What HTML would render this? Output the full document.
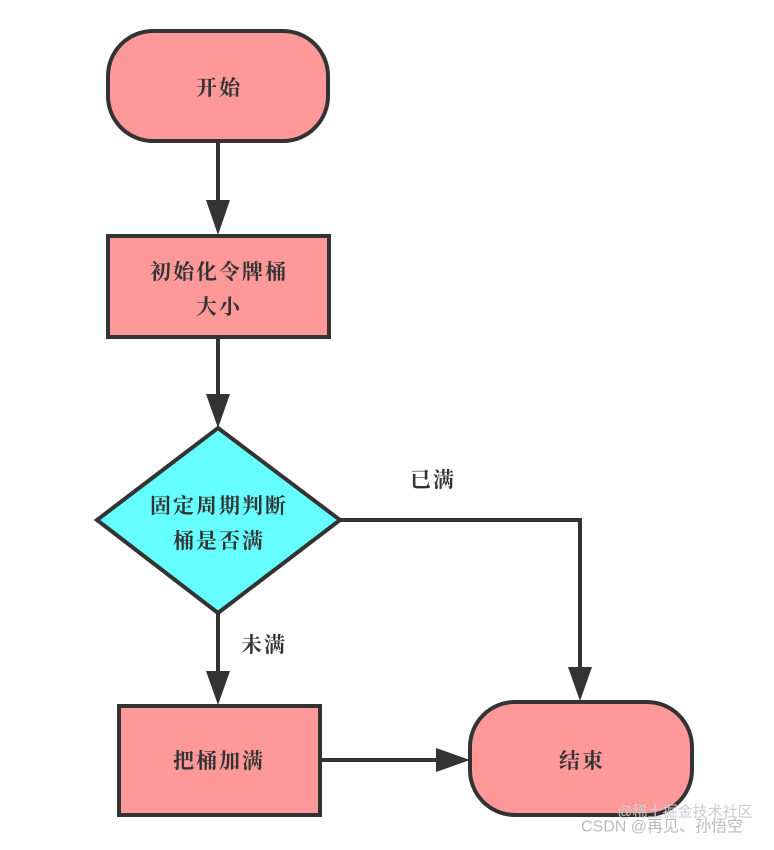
<!DOCTYPE html>
<html><head><meta charset="utf-8"><style>
html,body{margin:0;padding:0;background:#fff}
svg text{font-family:"Liberation Serif","Noto Serif CJK SC",serif;font-size:21px;font-weight:bold;letter-spacing:2px;fill:#333;text-anchor:middle;dominant-baseline:central}
</style></head><body>
<svg width="774" height="845" viewBox="0 0 774 845" xmlns="http://www.w3.org/2000/svg">
<g stroke="#333" stroke-width="4" fill="none">
<line x1="218" y1="142" x2="218" y2="205"/>
<line x1="218" y1="337" x2="218" y2="398"/>
<line x1="218" y1="613" x2="218" y2="675"/>
<polyline points="340,520 580,520 580,670"/>
<line x1="320" y1="760" x2="440" y2="760"/>
</g>
<g fill="#333">
<polygon points="206,200 230,200 218,235"/>
<polygon points="206,394 230,394 218,428"/>
<polygon points="206,671 230,671 218,705"/>
<polygon points="568,667 592,667 580,701"/>
<polygon points="436,748 436,772 470,760"/>
</g>
<rect x="108" y="31" width="220" height="110" rx="45" fill="#FF9999" stroke="#333" stroke-width="4"/>
<rect x="108" y="236" width="221" height="101" fill="#FF9999" stroke="#333" stroke-width="4"/>
<polygon points="218,428 340,520 218,613 97,520" fill="#66FFFF" stroke="#333" stroke-width="4"/>
<rect x="119" y="706" width="201" height="109" fill="#FF9999" stroke="#333" stroke-width="4"/>
<rect x="470" y="702" width="222" height="113" rx="45" fill="#FF9999" stroke="#333" stroke-width="4"/>
<text x="219" y="88">开始</text>
<text x="219" y="272">初始化令牌桶</text>
<text x="219" y="307">大小</text>
<text x="219" y="506">固定周期判断</text>
<text x="219" y="541">桶是否满</text>
<text x="219" y="761">把桶加满</text>
<text x="582" y="761">结束</text>
<text x="433" y="480">已满</text>
<text x="264" y="645">未满</text>
<text x="685" y="812" style="font-family:'Liberation Sans','Noto Sans CJK SC',sans-serif;font-size:15px;font-weight:normal;letter-spacing:0;fill:#ccc">@稀土掘金技术社区</text>
<text x="662" y="827" style="font-family:'Liberation Sans','Noto Sans CJK SC',sans-serif;font-size:16px;font-weight:normal;letter-spacing:0;fill:#bbb">CSDN @再见、孙悟空</text>
</svg>
</body></html>
